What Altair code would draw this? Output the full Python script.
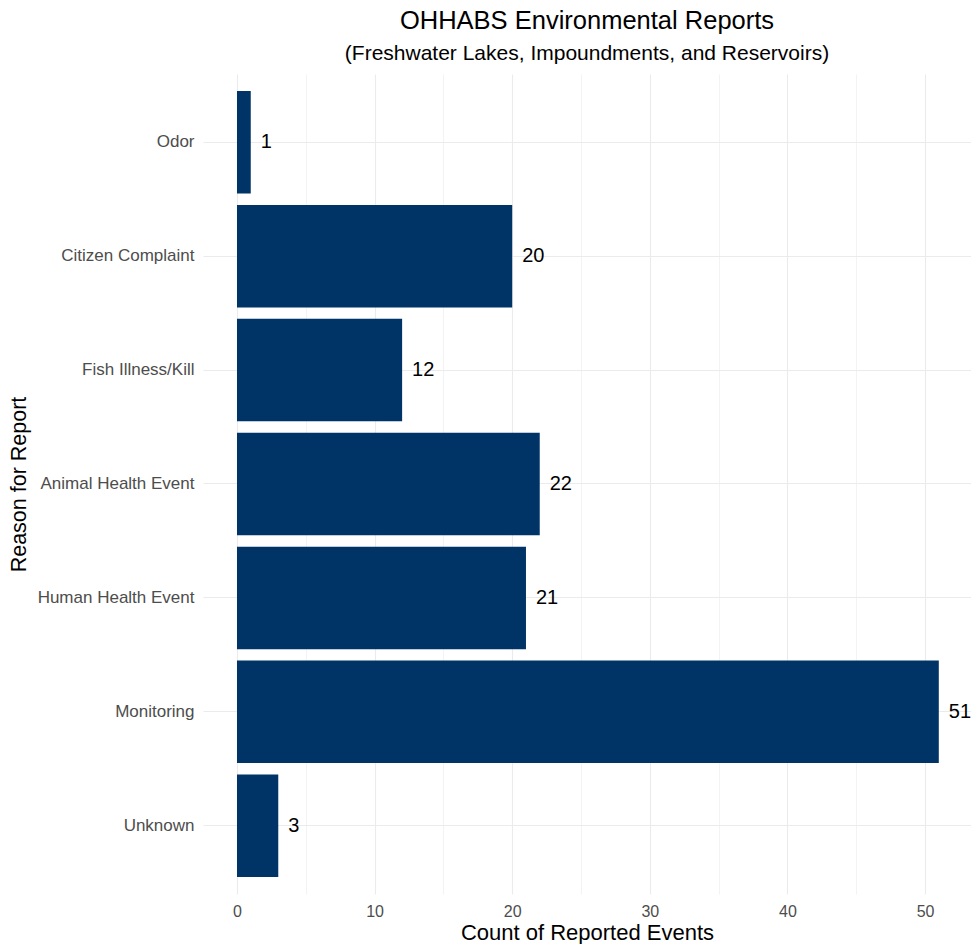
import altair as alt
import pandas as pd

reasons = ["Odor", "Citizen Complaint", "Fish Illness/Kill", "Animal Health Event",
           "Human Health Event", "Monitoring", "Unknown"]
counts = [1, 20, 12, 22, 21, 51, 3]

df = pd.DataFrame({"reason": reasons, "count": counts})

FONT = "Liberation Sans"

y_enc = alt.Y("reason:N", sort=reasons, title="Reason for Report",
              scale=alt.Scale(paddingInner=0.1, paddingOuter=0.15),
              axis=alt.Axis(bandPosition=0.5, grid=True, gridColor="#EBEBEB", gridWidth=1.1,
                            ticks=False, domain=False, labelColor="#4D4D4D", labelFontSize=17,
                            labelFont=FONT, labelPadding=9, titleFont=FONT, titleFontSize=21.5,
                            titleFontWeight="normal", titleColor="black", titlePadding=7))

x_enc = alt.X("count:Q", title="Count of Reported Events",
              scale=alt.Scale(domain=[-2.47, 53.34], nice=False, zero=False),
              axis=alt.Axis(values=[0, 5, 10, 15, 20, 25, 30, 35, 40, 45, 50],
                            labelExpr="datum.value % 10 === 0 ? datum.label : ''",
                            grid=True, gridColor="#EBEBEB",
                            gridWidth={"condition": {"test": "datum.value % 10 !== 0", "value": 0.6},
                                       "value": 1.1},
                            ticks=False, domain=False, labelColor="#4D4D4D", labelFontSize=16,
                            labelFont=FONT, labelPadding=9, titleFont=FONT, titleFontSize=22,
                            titleFontWeight="normal", titleColor="black", titlePadding=3))

bars = alt.Chart(df).mark_bar(color="#003366", clip=True).encode(
    x=x_enc, x2=alt.datum(0), y=y_enc)

labels = alt.Chart(df).mark_text(align="left", baseline="middle", dx=10, fontSize=20,
                                 font=FONT, color="black").encode(
    x=alt.X("count:Q"), y=alt.Y("reason:N", sort=reasons), text="count:Q")

chart = alt.layer(bars, labels).properties(
    width=768, height=820,
    background="white",
    title=alt.TitleParams("OHHABS Environmental Reports",
                          subtitle="(Freshwater Lakes, Impoundments, and Reservoirs)",
                          font=FONT, fontSize=25.5, fontWeight="normal", color="black",
                          subtitleFont=FONT, subtitleFontSize=21, subtitleColor="black",
                          anchor="middle", frame="group", offset=10, subtitlePadding=9),
    autosize=alt.AutoSizeParams(type="none"),
    padding={"left": 203, "top": 74, "right": 0, "bottom": 50},
).configure_view(stroke=None)

chart.save("out.html", embed_options={"renderer": "svg", "actions": False})
